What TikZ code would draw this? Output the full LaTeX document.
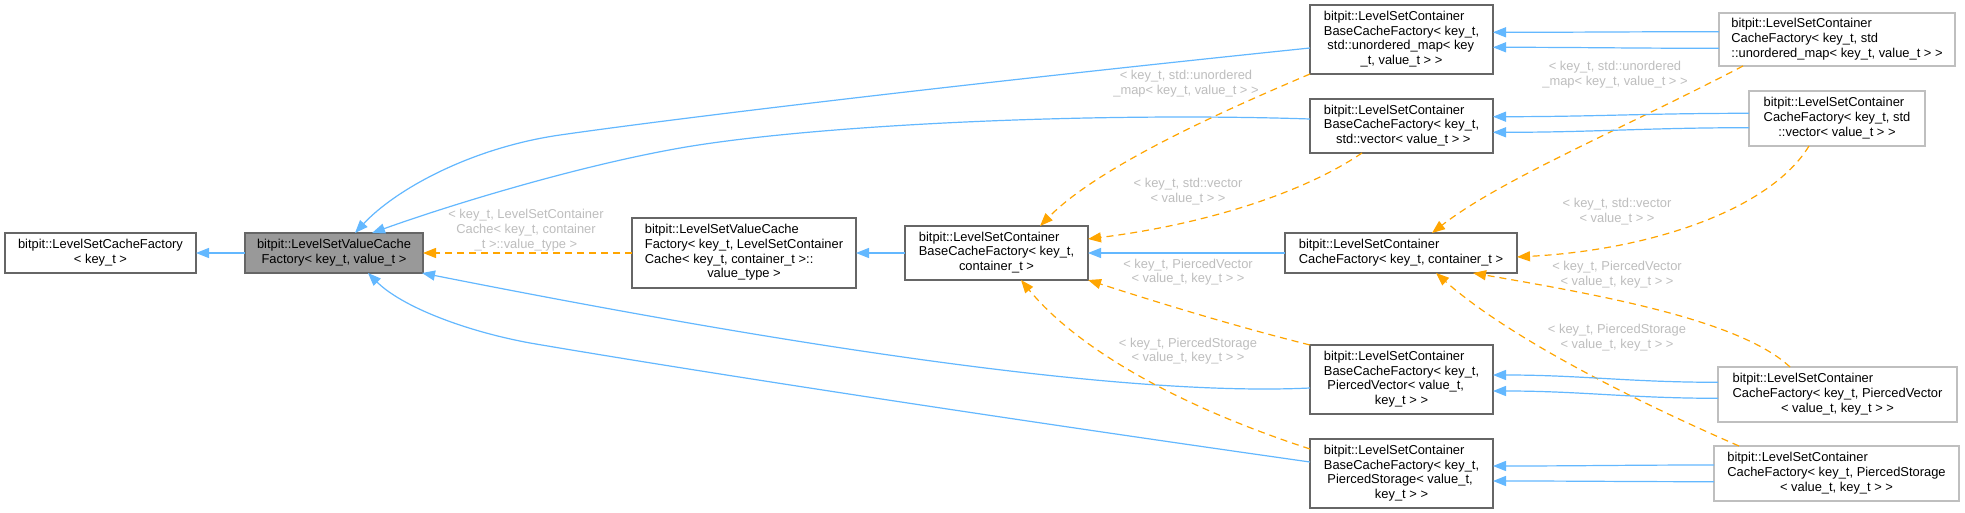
\documentclass[tikz,border=0pt]{standalone}
\usepackage{fontspec}
\setmainfont{Liberation Sans}
\usetikzlibrary{arrows.meta,calc}
\definecolor{edgeblue}{HTML}{63B8FF}
\definecolor{edgeorange}{HTML}{FFA500}
\definecolor{boxdark}{HTML}{666666}
\definecolor{boxlight}{HTML}{BFBFBF}
\definecolor{rootfill}{HTML}{999999}
\definecolor{lblgray}{HTML}{BEBEBE}
\newcommand{\ctrline}[1]{\multicolumn{1}{@{}c@{}}{#1}}
\newcommand{\boxtext}[1]{\begin{tabular}{@{}l@{}}#1\end{tabular}}
\newcommand{\lbltext}[1]{\begin{tabular}{@{}c@{}}#1\end{tabular}}
\begin{document}
\begin{tikzpicture}[x=1pt,y=-1pt,
  every node/.style={font=\fontsize{12.9}{14.7}\selectfont, inner sep=0pt, outer sep=0pt},
  cls/.style 2 args={draw=boxdark, line width=1.2pt, fill=white, minimum width=#1, minimum height=#2},
  clslight/.style 2 args={draw=boxlight, line width=1.2pt, fill=white, minimum width=#1, minimum height=#2},
  lbl/.style={text=lblgray},
  blueedge/.style={draw=edgeblue, line width=1.2pt, -{Triangle[length=13pt,width=10pt]}},
  orngedge/.style={draw=edgeorange, line width=1.2pt, dash pattern=on 7pt off 5pt, -{Triangle[length=13pt,width=10pt]}}]
\fill[white] (0,0) rectangle (1965,513);
\useasboundingbox (0,0) rectangle (1965,513);

% nodes
\node[cls={191pt}{40pt}] (n1) at (100.5,253) {\boxtext{bitpit::LevelSetCacheFactory\\ \ctrline{< key\_t >}}};
\node[cls={178pt}{40pt}, fill=rootfill] (n2) at (334,253) {\boxtext{\ctrline{bitpit::LevelSetValueCache}\\ \ctrline{Factory< key\_t, value\_t >}}};
\node[cls={224pt}{70pt}] (n3) at (744,253) {\boxtext{bitpit::LevelSetValueCache\\ Factory< key\_t, LevelSetContainer\\ Cache< key\_t, container\_t >::\\ \ctrline{value\_type >}}};
\node[cls={183pt}{54pt}] (n4) at (996.5,253) {\boxtext{bitpit::LevelSetContainer\\ BaseCacheFactory< key\_t,\\ \ctrline{container\_t >}}};
\node[cls={232pt}{40pt}] (n5) at (1401,253) {\boxtext{bitpit::LevelSetContainer\\ CacheFactory< key\_t, container\_t >}};
\node[cls={183pt}{69pt}] (n6) at (1401.5,39.5) {\boxtext{bitpit::LevelSetContainer\\ BaseCacheFactory< key\_t,\\ \ std::unordered\_map< key\\ \ctrline{\_t, value\_t > >}}};
\node[cls={183pt}{54pt}] (n7) at (1401.5,126) {\boxtext{bitpit::LevelSetContainer\\ BaseCacheFactory< key\_t,\\ \ctrline{\ std::vector< value\_t > >}}};
\node[clslight={236pt}{53pt}] (n8) at (1837,39.5) {\boxtext{bitpit::LevelSetContainer\\ CacheFactory< key\_t, std\\ ::unordered\_map< key\_t, value\_t > >}};
\node[clslight={176pt}{55pt}] (n9) at (1837,118.5) {\boxtext{bitpit::LevelSetContainer\\ CacheFactory< key\_t, std\\ \ctrline{::vector< value\_t > >}}};
\node[cls={183pt}{69pt}] (n10) at (1401.5,379.5) {\boxtext{bitpit::LevelSetContainer\\ BaseCacheFactory< key\_t,\\ \ PiercedVector< value\_t,\\ \ctrline{key\_t > >}}};
\node[cls={183pt}{69pt}] (n11) at (1401.5,473.5) {\boxtext{bitpit::LevelSetContainer\\ BaseCacheFactory< key\_t,\\ \ PiercedStorage< value\_t,\\ \ctrline{key\_t > >}}};
\node[clslight={239pt}{55pt}] (n12) at (1837.5,394.5) {\boxtext{bitpit::LevelSetContainer\\ CacheFactory< key\_t, PiercedVector\\ \ctrline{< value\_t, key\_t > >}}};
\node[clslight={245pt}{55pt}] (n13) at (1836.5,473.5) {\boxtext{bitpit::LevelSetContainer\\ CacheFactory< key\_t, PiercedStorage\\ \ctrline{< value\_t, key\_t > >}}};

% edge labels
\node[lbl] (l1) at (526,230.5) {\lbltext{< key\_t, LevelSetContainer\\ Cache< key\_t, container\\ \_t >::value\_type >}};
\node[lbl] (l2) at (1186,84) {\lbltext{< key\_t, std::unordered\\ \_map< key\_t, value\_t > >}};
\node[lbl] (l3) at (1188,192) {\lbltext{< key\_t, std::vector\\ < value\_t > >}};
\node[lbl] (l4) at (1615,75) {\lbltext{< key\_t, std::unordered\\ \_map< key\_t, value\_t > >}};
\node[lbl] (l5) at (1617,212) {\lbltext{< key\_t, std::vector\\ < value\_t > >}};
\node[lbl] (l6) at (1188,272.5) {\lbltext{< key\_t, PiercedVector\\ < value\_t, key\_t > >}};
\node[lbl] (l7) at (1188,351.5) {\lbltext{< key\_t, PiercedStorage\\ < value\_t, key\_t > >}};
\node[lbl] (l8) at (1617,275) {\lbltext{< key\_t, PiercedVector\\ < value\_t, key\_t > >}};
\node[lbl] (l9) at (1617,338) {\lbltext{< key\_t, PiercedStorage\\ < value\_t, key\_t > >}};

% straight edges
\draw[blueedge] (n2.west) -- (n1.east);
\draw[orngedge] (n3.west) -- (n2.east);
\draw[blueedge] (n4.west) -- (n3.east);
\draw[blueedge] (n5.west) -- (n4.east);

% long blue edges to root
\draw[blueedge] ($(n6.west)+(0,8.5)$) .. controls (1000,80) and (700,115) .. (560,135) .. controls (470,148) and (395,190) .. ($(n2.north)+(21,0)$);
\draw[blueedge] ($(n7.west)+(0,-7)$) .. controls (1100,112) and (824,124) .. (686,147) .. controls (580,165) and (450,205) .. ($(n2.north)+(38,0)$);
\draw[blueedge] ($(n10.west)+(0,8.5)$) .. controls (1100,398) and (720,332) .. ($(n2.south east)+(-1,0)$);
\draw[blueedge] ($(n11.west)+(0,-11.5)$) .. controls (1000,418) and (700,372) .. (530,343) .. controls (460,330) and (400,305) .. ($(n2.south)+(34,0)$);

% orange template edges
\draw[orngedge] (n6.south west) .. controls (1230,108) and (1100,165) .. ($(n4.north)+(43.5,0)$);
\draw[orngedge] ($(n7.south)+(-39.5,0)$) .. controls (1300,195) and (1200,225) .. ($(n4.east)+(0,-14)$);
\draw[orngedge] ($(n8.south)+(-94,0)$) .. controls (1620,130) and (1500,180) .. ($(n5.north)+(31,0)$);
\draw[orngedge] ($(n9.south)+(-28,0)$) .. controls (1770,210) and (1650,250) .. ($(n5.east)+(0,4)$);
\draw[orngedge] (n10.north west) .. controls (1230,325) and (1150,300) .. (n4.south east);
\draw[orngedge] ($(n11.north west)+(0,10)$) .. controls (1160,400) and (1070,340) .. ($(n4.south)+(24.5,0)$);
\draw[orngedge] ($(n12.north)+(-47.5,0)$) .. controls (1740,320) and (1600,295) .. ($(n5.south)+(72,0)$);
\draw[orngedge] ($(n13.north)+(-97.5,0)$) .. controls (1610,390) and (1500,330) .. ($(n5.south)+(35,0)$);

% double blue edges right column -> middle column
\draw[blueedge] ($(n8.west)+(0,-7.8)$) to[out=180,in=0] ($(n6.east)+(0,-7.2)$);
\draw[blueedge] ($(n8.west)+(0,8.8)$) to[out=180,in=0] ($(n6.east)+(0,7.8)$);
\draw[blueedge] ($(n9.west)+(0,-5.2)$) to[out=180,in=0] ($(n7.east)+(0,-9.3)$);
\draw[blueedge] ($(n9.west)+(0,9.2)$) to[out=180,in=0] ($(n7.east)+(0,6.3)$);
\draw[blueedge] ($(n12.west)+(0,-12.2)$) to[out=180,in=0] ($(n10.east)+(0,-4.5)$);
\draw[blueedge] ($(n12.west)+(0,3.8)$) to[out=180,in=0] ($(n10.east)+(0,11.5)$);
\draw[blueedge] ($(n13.west)+(0,-8.5)$) to[out=180,in=0] ($(n11.east)+(0,-7.5)$);
\draw[blueedge] ($(n13.west)+(0,8.2)$) to[out=180,in=0] ($(n11.east)+(0,7.5)$);
\end{tikzpicture}
\end{document}
